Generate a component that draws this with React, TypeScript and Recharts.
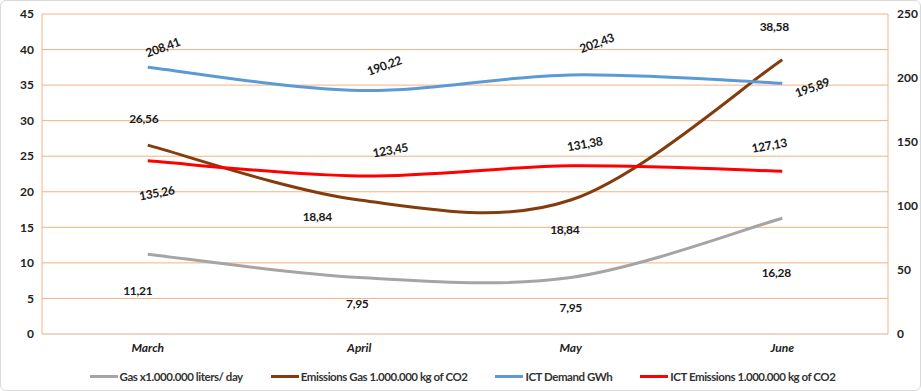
import { LineChart, Line, XAxis, YAxis, CartesianGrid, Legend } from 'recharts'

const months = ['March', 'April', 'May', 'June']
const gasLiters = [11.21, 7.95, 7.95, 16.28]
const gasEmissions = [26.56, 18.84, 18.84, 38.58]
const ictDemand = [208.41, 190.22, 202.43, 195.89]
const ictEmissions = [135.26, 123.45, 131.38, 127.13]
const leftTicks = [0, 5, 10, 15, 20, 25, 30, 35, 40, 45]
const rightTicks = [0, 50, 100, 150, 200, 250]

const data = months.map((m, i) => ({
  month: m,
  gas: gasLiters[i],
  gasEm: gasEmissions[i],
  ict: ictDemand[i],
  ictEm: ictEmissions[i],
}))

// hand placed data labels, like the source spreadsheet: [dx, dy]
const gasLabelPos = [[-10, 36], [-2, 26], [0, 30], [-6, 54]]
const gasEmLabelPos = [[-4, -27], [-42, 16], [-6, 29], [-8, -33]]
const ictLabelPos = [[15, -20], [25, -25], [26, -32], [30, 4]]
const ictEmLabelPos = [[9, 32], [31, -26], [14, -22], [-13, -26]]

const FONT = 'Lato, "Open Sans", sans-serif'
const GRID = '#F4B183'

// smoothing close to the spreadsheet's (catmull-rom style bezier)
function smoothCurve(context: any) {
  let xs: number[] = []
  let ys: number[] = []
  return {
    areaStart() {},
    areaEnd() {},
    lineStart() {
      xs = []
      ys = []
    },
    point(x: number, y: number) {
      xs.push(+x)
      ys.push(+y)
    },
    lineEnd() {
      const n = xs.length
      if (!n) return
      context.moveTo(xs[0], ys[0])
      for (let i = 0; i < n - 1; i++) {
        const p = Math.max(i - 1, 0)
        const q = Math.min(i + 2, n - 1)
        context.bezierCurveTo(
          xs[i] + (xs[i + 1] - xs[p]) / 6,
          ys[i] + (ys[i + 1] - ys[p]) / 6,
          xs[i + 1] - (xs[q] - xs[i]) / 6,
          ys[i + 1] - (ys[q] - ys[i]) / 6,
          xs[i + 1],
          ys[i + 1]
        )
      }
    },
  }
}

function makeLabel(pos: number[][], angle: number) {
  return (props: any) => {
    const { x, y, value, index } = props
    const [dx, dy] = pos[index] ?? [0, 0]
    const cx = x + dx
    const cy = y + dy
    return (
      <text
        key={index}
        x={cx}
        y={cy}
        textAnchor="middle"
        dominantBaseline="central"
        transform={`rotate(${angle} ${cx} ${cy})`}
        fontFamily={FONT}
        fontSize={12}
        fontWeight={700}
        letterSpacing={-0.3}
        fill="#1a1a1a"
      >
        {Number(value).toFixed(2).replace('.', ',')}
      </text>
    )
  }
}

const legendItems = [
  { label: 'Gas x1.000.000 liters/ day', color: '#A5A5A5' },
  { label: 'Emissions Gas 1.000.000 kg of CO2', color: '#843C0C' },
  { label: 'ICT Demand GWh', color: '#5B9BD5' },
  { label: 'ICT Emissions 1.000.000 kg of CO2', color: '#FF0000' },
]

function ChartLegend() {
  return (
    <div
      style={{
        height: 30,
        display: 'flex',
        alignItems: 'center',
        justifyContent: 'center',
        gap: 28,
        fontFamily: FONT,
        fontSize: 11.5,
        fontWeight: 700,
        letterSpacing: -0.45,
        color: '#333',
        paddingLeft: 4,
      }}
    >
      {legendItems.map((it) => (
        <div key={it.label} style={{ display: 'flex', alignItems: 'center' }}>
          <span style={{ display: 'inline-block', width: 28, height: 3, background: it.color, marginRight: 2 }} />
          <span>{it.label}</span>
        </div>
      ))}
    </div>
  )
}

export default function App() {
  return (
    <div style={{ position: 'absolute', left: 0, top: 0, width: 921, height: 391, background: '#fff' }}>
      <LineChart width={921} height={391} data={data} margin={{ top: 14, right: 0, left: 0, bottom: 0 }}>
        <CartesianGrid yAxisId="left" vertical={false} stroke={GRID} strokeWidth={1} />
        <XAxis
          dataKey="month"
          padding={{ left: 105.75, right: 105.75 }}
          height={27}
          tickLine={false}
          tickSize={0}
          tickMargin={9}
          axisLine={{ stroke: '#D9D9D9' }}
          tick={{ fontFamily: FONT, fontSize: 12, fontWeight: 700, fontStyle: 'italic', fill: '#222' }}
        />
        <YAxis
          yAxisId="left"
          domain={[0, 45]}
          ticks={leftTicks}
          width={42}
          tickLine={false}
          tickSize={0}
          tickMargin={8}
          axisLine={{ stroke: GRID }}
          tick={{ fontFamily: FONT, fontSize: 12, fontWeight: 700, fill: '#222' }}
        />
        <YAxis
          yAxisId="right"
          orientation="right"
          domain={[0, 250]}
          ticks={rightTicks}
          width={33}
          tickLine={false}
          tickSize={0}
          tickMargin={9}
          axisLine={{ stroke: GRID }}
          tick={{ fontFamily: FONT, fontSize: 12, fontWeight: 700, fill: '#222' }}
        />
        <Legend verticalAlign="bottom" content={() => <ChartLegend />} />
        <Line
          yAxisId="left"
          dataKey="gas"
          name="Gas x1.000.000 liters/ day"
          type={smoothCurve as any}
          stroke="#A5A5A5"
          strokeWidth={3}
          dot={false}
          isAnimationActive={false}
          label={makeLabel(gasLabelPos, 0)}
        />
        <Line
          yAxisId="left"
          dataKey="gasEm"
          name="Emissions Gas 1.000.000 kg of CO2"
          type={smoothCurve as any}
          stroke="#843C0C"
          strokeWidth={3}
          dot={false}
          isAnimationActive={false}
          label={makeLabel(gasEmLabelPos, 0)}
        />
        <Line
          yAxisId="right"
          dataKey="ict"
          name="ICT Demand GWh"
          type={smoothCurve as any}
          stroke="#5B9BD5"
          strokeWidth={3}
          dot={false}
          isAnimationActive={false}
          label={makeLabel(ictLabelPos, -20)}
        />
        <Line
          yAxisId="right"
          dataKey="ictEm"
          name="ICT Emissions 1.000.000 kg of CO2"
          type={smoothCurve as any}
          stroke="#FF0000"
          strokeWidth={3}
          dot={false}
          isAnimationActive={false}
          label={makeLabel(ictEmLabelPos, -10)}
        />
      </LineChart>
      <div
        style={{
          position: 'absolute',
          left: 0,
          top: 0,
          width: 919,
          height: 389,
          border: '1px solid #D9D9D9',
          borderRadius: 6,
          pointerEvents: 'none',
        }}
      />
    </div>
  )
}
